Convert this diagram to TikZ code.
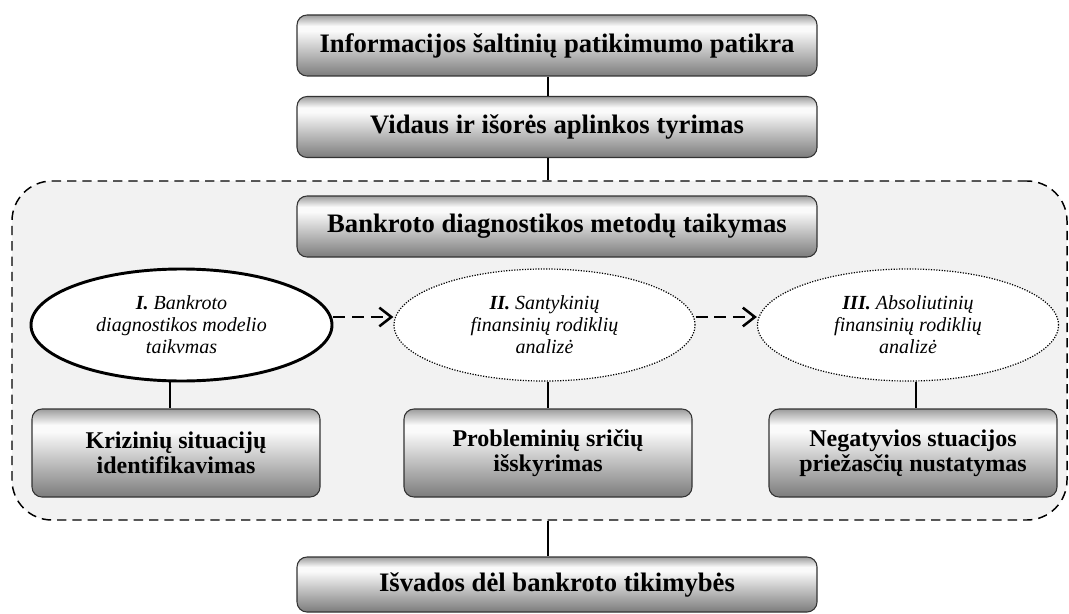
\documentclass[tikz,border=0pt]{standalone}
\usepackage{fontspec}
\setmainfont{Liberation Serif}
\usetikzlibrary{shapes.geometric,arrows.meta}
\definecolor{mA}{HTML}{7C7C7C}
\definecolor{mB}{HTML}{C0C0C0}
\definecolor{mC}{HTML}{FAFAFA}
\definecolor{mD}{HTML}{9C9C9C}
\definecolor{panel}{HTML}{F2F2F2}
\pgfdeclareverticalshading{metal}{100bp}{color(0bp)=(mA); color(25bp)=(mA); color(45bp)=(mB); color(62bp)=(mC); color(66bp)=(mC); color(75bp)=(mD); color(100bp)=(mD)}
\tikzset{
  mbox/.style={draw=black!80, line width=0.8pt, rounded corners=7.5pt, shading=metal, align=center, inner sep=0pt},
  bigbox/.style={mbox, minimum width=390pt, minimum height=45.75pt, font=\bfseries\fontsize{20}{22}\selectfont},
  smallbox/.style={mbox, minimum width=216pt, minimum height=66pt, font=\bfseries\fontsize{18}{19}\selectfont},
  oval/.style={ellipse, fill=white, minimum width=225.75pt, minimum height=84pt, inner sep=0pt, align=center, font=\itshape\fontsize{15}{16.5}\selectfont},
  solidoval/.style={oval, draw=black, line width=2.2pt},
  dotoval/.style={oval, draw=black, line width=0.9pt, dash pattern=on 0.9pt off 1.1pt},
  panelbox/.style={draw=black, fill=panel, line width=1.1pt, dash pattern=on 7pt off 4.5pt, rounded corners=30pt, minimum width=791.25pt, minimum height=254.25pt, inner sep=0pt},
  link/.style={draw=black, line width=1.1pt},
  darrow/.style={draw=black, line width=1.7pt, dash pattern=on 9pt off 5pt, -{Straight Barb[length=9pt,width=14pt,line width=1.9pt]}}
}
\begin{document}
\begin{tikzpicture}[x=0.75pt,y=-0.75pt]
\useasboundingbox (0,0) rectangle (1069,613);
\node[panelbox] (cont) at (539.5,350.5) {};
\coordinate (ax) at (548,0);
\coordinate (l1) at (170,0);
\coordinate (l2) at (548,0);
\coordinate (l3) at (916,0);
\coordinate (ay) at (0,317);
\node[bigbox] (b1) at (557,45.5) {Informacijos šaltinių patikimumo patikra};
\node[bigbox] (b2) at (557,127) {Vidaus ir išorės aplinkos tyrimas};
\node[bigbox] (b3) at (557,226.5) {Bankroto diagnostikos metodų taikymas};
\node[bigbox, minimum height=41.25pt] (fin) at (557,584.5) {Išvados dėl bankroto tikimybės};
\node[solidoval] (e1) at (181.5,325) {\textbf{I.} Bankroto\\diagnostikos modelio\\taikvmas};
\node[dotoval] (e2) at (544.5,325) {\textbf{II.} Santykinių\\finansinių rodiklių\\analizė};
\node[dotoval] (e3) at (908,325) {\textbf{III.} Absoliutinių\\finansinių rodiklių\\analizė};
\node[smallbox] (k1) at (176,453) {Krizinių situacijų\\identifikavimas};
\node[smallbox] (k2) at (548,453) {Probleminių sričių\\išskyrimas};
\node[smallbox] (k3) at (913,453) {Negatyvios stuacijos\\priežasčių nustatymas};
\draw[link] (b1.south -| ax) -- (b2.north -| ax);
\draw[link] (b2.south -| ax) -- (cont.north -| ax);
\draw[link] (cont.south -| ax) -- (fin.north -| ax);
\draw[link] (e1.south -| l1) -- (k1.north -| l1);
\draw[link] (e2.south -| l2) -- (k2.north -| l2);
\draw[link] (e3.south -| l3) -- (k3.north -| l3);
\draw[darrow] (e1.east |- ay) -- (e2.west |- ay);
\draw[darrow] (e2.east |- ay) -- (e3.west |- ay);
\end{tikzpicture}
\end{document}
